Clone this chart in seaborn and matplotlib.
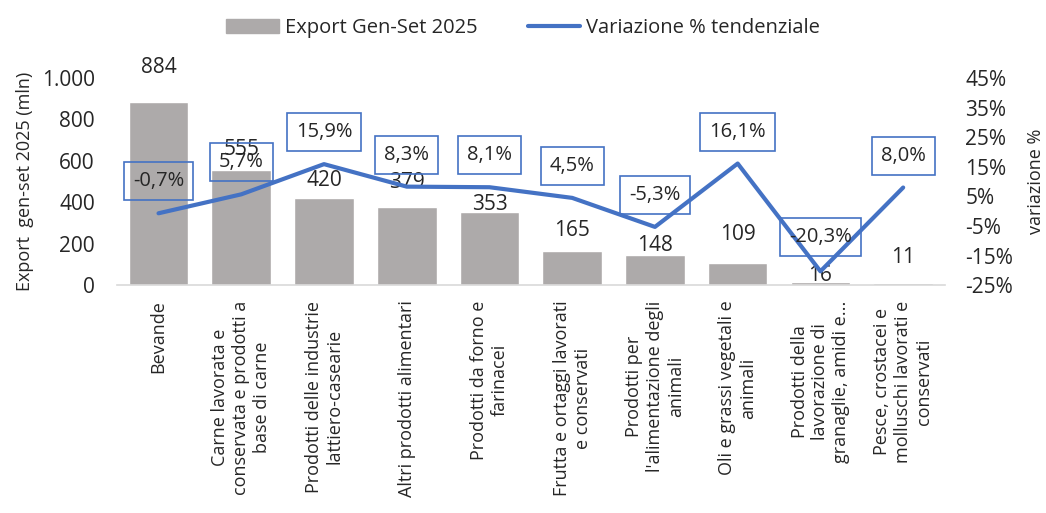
import matplotlib
matplotlib.use("Agg")
import matplotlib.pyplot as plt
import seaborn as sns
import pandas as pd
from matplotlib.ticker import FuncFormatter
from matplotlib.patches import Patch
from matplotlib.lines import Line2D

# data
categories = [
    "Bevande",
    "Carne lavorata e\nconservata e prodotti a\nbase di carne",
    "Prodotti delle industrie\nlattiero-casearie",
    "Altri prodotti alimentari",
    "Prodotti da forno e\nfarinacei",
    "Frutta e ortaggi lavorati\ne conservati",
    "Prodotti per\nl'alimentazione degli\nanimali",
    "Oli e grassi vegetali e\nanimali",
    "Prodotti della\nlavorazione di\ngranaglie, amidi e...",
    "Pesce, crostacei e\nmolluschi lavorati e\nconservati",
]
export_2025 = [884, 555, 420, 379, 353, 165, 148, 109, 16, 11]
var_pct = [-0.7, 5.7, 15.9, 8.3, 8.1, 4.5, -5.3, 16.1, -20.3, 8.0]

# label offsets (points) above bar tops, as in the original
val_dy = [17, 7, 5, 10, -2, 7, -1, 13, -3, 11]
# offsets (points) of the % boxes above the line points
pct_dy = [23, 23, 23, 23, 23, 23, 23, 23, 25, 23]

bar_color = "#ADAAAA"
line_color = "#4472C4"

sns.set_style("white")
plt.rcParams["font.family"] = ["Open Sans", "DejaVu Sans"]

df = pd.DataFrame({"cat": categories, "export": export_2025, "var": var_pct})
df["pos"] = range(len(df))

fig = plt.figure(figsize=(10.46, 5.13), dpi=100)
ax = fig.add_axes([0.112, 0.444, 0.791, 0.404])

sns.barplot(data=df, x="cat", y="export", color=bar_color, width=0.72,
            saturation=1, ax=ax)
ax.set_ylim(0, 1000)
ax.set_yticks(range(0, 1001, 200))
ax.yaxis.set_major_formatter(FuncFormatter(lambda v, p: f"{int(v):,}".replace(",", ".")))
ax.tick_params(axis="y", labelsize=15, length=0, pad=16)
ax.set_xlabel("")
ax.set_ylabel("Export  gen-set 2025 (mln)", fontsize=13, labelpad=6)

ax.set_xticks(range(len(categories)))
ax.set_xticklabels([])
ax.tick_params(axis="x", length=0)
for i, lab in enumerate(categories):
    ax.annotate(lab, xy=(i, 0), xycoords=("data", "axes fraction"),
                xytext=(0, -11), textcoords="offset points",
                rotation=90, ha="center", va="top", fontsize=13,
                multialignment="center", linespacing=1.2)

for s in ["top", "right", "left"]:
    ax.spines[s].set_visible(False)
ax.spines["bottom"].set_color("#D9D9D9")
ax.spines["bottom"].set_linewidth(1.2)
ax.set_xlim(-0.5, len(categories) - 0.5)

# bar value labels
for i, v in enumerate(export_2025):
    ax.annotate(str(v), xy=(i, v), xytext=(0, val_dy[i]), textcoords="offset points",
                ha="center", va="bottom", fontsize=15)

# line on the secondary axis
ax2 = ax.twinx()
sns.lineplot(data=df, x="pos", y="var", color=line_color, linewidth=3, ax=ax2)
ax2.set_ylim(-25, 45)
ax2.set_yticks(range(-25, 46, 10))
ax2.yaxis.set_major_formatter(FuncFormatter(lambda v, p: f"{int(v)}%"))
ax2.tick_params(axis="y", labelsize=15, length=0, pad=15)
ax2.set_ylabel("variazione %", fontsize=13, labelpad=10)
ax2.set_xlabel("")
for s in ax2.spines.values():
    s.set_visible(False)
ax2.set_xlim(-0.5, len(categories) - 0.5)

for i, p in enumerate(var_pct):
    txt = f"{p:.1f}%".replace(".", ",")
    ax2.annotate(txt, xy=(i, p), xytext=(0, pct_dy[i]), textcoords="offset points",
                 ha="center", va="center", fontsize=14.5,
                 bbox=dict(boxstyle="square,pad=0.45", fc="none", ec=line_color, lw=1.2))

handles = [Patch(color=bar_color, label="Export Gen-Set 2025"),
           Line2D([0], [0], color=line_color, lw=3, label="Variazione % tendenziale")]
fig.legend(handles=handles, loc="upper center", bbox_to_anchor=(0.5, 1.0), ncol=2,
           frameon=False, fontsize=14.5, handlelength=2.6, handletextpad=0.3,
           columnspacing=2.5)

fig.savefig("out.png", dpi=100)
